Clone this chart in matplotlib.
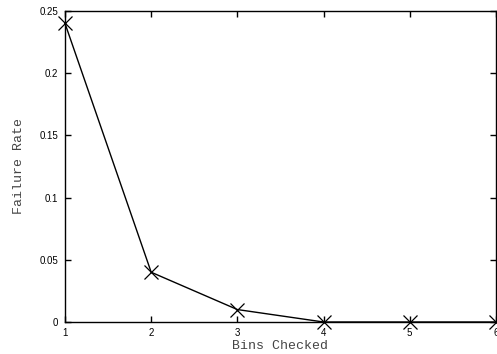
import matplotlib
matplotlib.use("Agg")
import matplotlib.pyplot as plt

bins = [1, 2, 3, 4, 5, 6]
failure = [0.24, 0.04, 0.01, 0.0, 0.0, 0.0]

xticks = [1, 2, 3, 4, 5, 6]
yticks = [0, 0.05, 0.1, 0.15, 0.2, 0.25]
ytick_labels = ['0', '0.05', '0.1', '0.15', '0.2', '0.25']

fig = plt.figure(figsize=(4.97, 3.54), dpi=100)
ax = fig.add_axes([0.1308, 0.0904, 0.867, 0.8786])

ax.plot(bins, failure, color='black', linewidth=1, marker='x',
        markersize=10, markeredgewidth=0.9, clip_on=False)

ax.set_xlim(1, 6)
ax.set_ylim(0, 0.25)
ax.set_xticks(xticks)
ax.set_xticklabels([str(b) for b in xticks])
ax.set_yticks(yticks)
ax.set_yticklabels(ytick_labels)

ax.tick_params(direction='in', length=4, width=1, top=True, right=True,
               labelsize=7)
ax.tick_params(axis='x', pad=4)
ax.tick_params(axis='y', pad=5)
for lbl in ax.get_xticklabels() + ax.get_yticklabels():
    lbl.set_fontfamily('Liberation Sans')

for s in ax.spines.values():
    s.set_linewidth(1)

ax.set_xlabel('Bins Checked', fontfamily='Liberation Mono', fontsize=9.5,
              color='#444444', labelpad=2)
ax.set_ylabel('Failure Rate', fontfamily='Liberation Mono', fontsize=9.5,
              color='#444444', labelpad=10)

fig.savefig('out.png', dpi=100)
